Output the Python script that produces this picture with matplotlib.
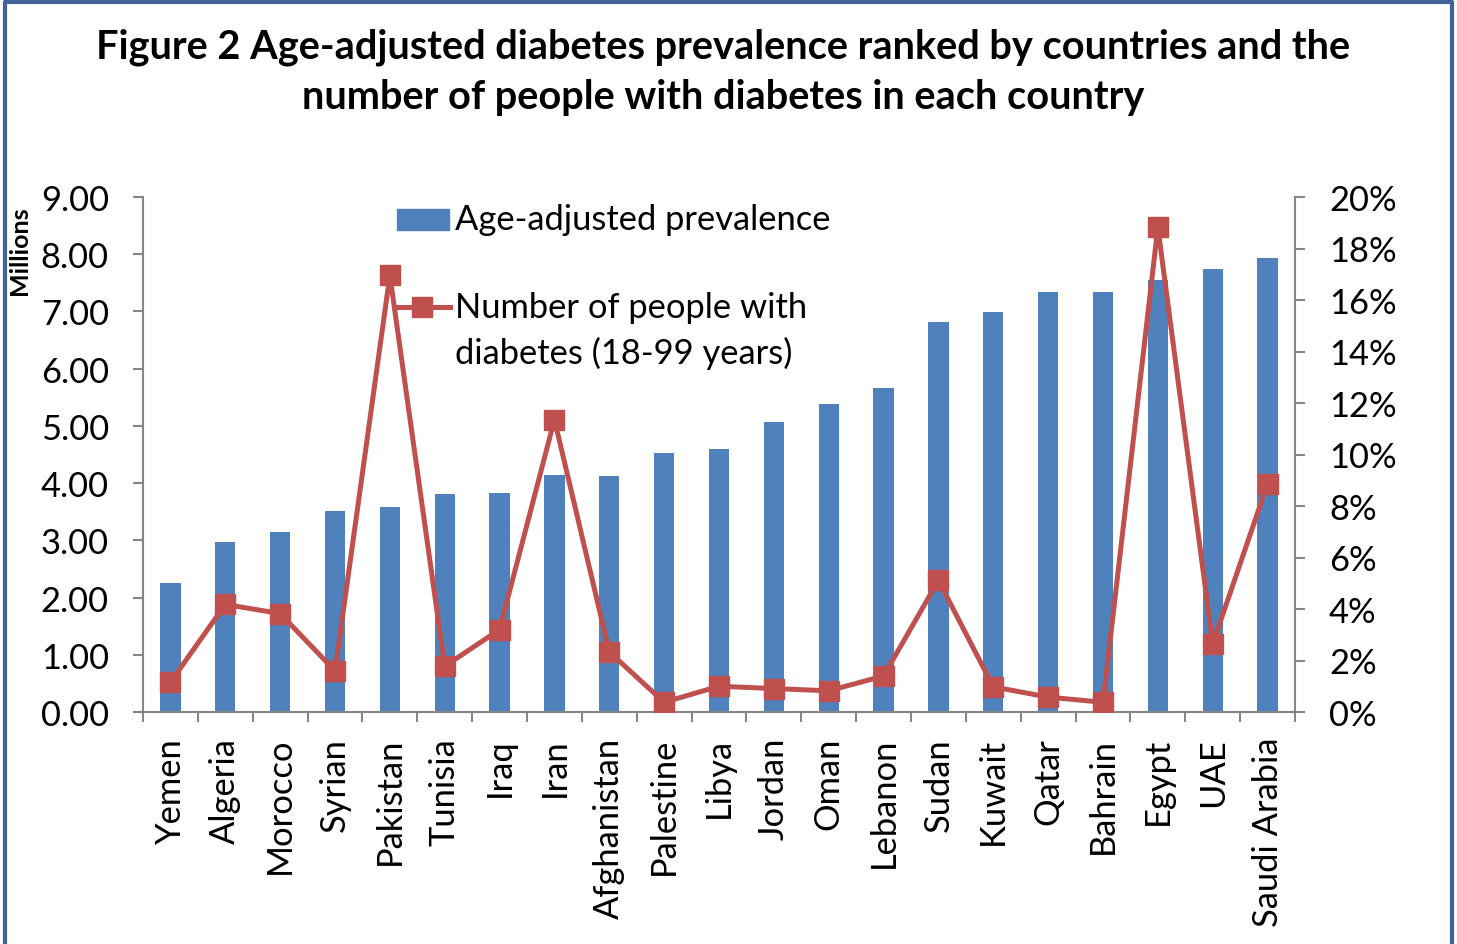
import numpy as np
import matplotlib; matplotlib.use('Agg')
import matplotlib.pyplot as plt
from matplotlib.ticker import PercentFormatter, FormatStrFormatter, MultipleLocator
from matplotlib.lines import Line2D
from matplotlib.patches import Rectangle

plt.rcParams['font.family'] = ['Lato', 'DejaVu Sans']

countries = ['Yemen', 'Algeria', 'Morocco', 'Syrian', 'Pakistan', 'Tunisia', 'Iraq', 'Iran',
             'Afghanistan', 'Palestine', 'Libya', 'Jordan', 'Oman', 'Lebanon', 'Sudan',
             'Kuwait', 'Qatar', 'Bahrain', 'Egypt', 'UAE', 'Saudi Arabia']
# age-adjusted prevalence, % (right axis)
prevalence = [5.01, 6.62, 6.99, 7.82, 7.97, 8.47, 8.50, 9.20, 9.17, 10.07, 10.23,
              11.28, 11.97, 12.58, 15.15, 15.55, 16.30, 16.30, 16.78, 17.20, 17.65]
# number of people with diabetes, millions (left axis)
people = [0.52, 1.88, 1.72, 0.72, 7.63, 0.80, 1.44, 5.11, 1.05, 0.17, 0.45,
          0.41, 0.37, 0.63, 2.30, 0.44, 0.26, 0.17, 8.47, 1.19, 3.99]

BLUE = '#4f81bd'; RED = '#c0504d'; GREY = '#868686'
W, H = 1457, 945
fs = 24.8
LW = 3.6

fig = plt.figure(figsize=(W/100, H/100), dpi=100)
px = lambda x: x/W
py = lambda y: 1 - y/H

ax = fig.add_axes([px(143), py(713), px(1295-143), (713-198)/H])
x = np.arange(len(countries))
ax.bar(x, prevalence, width=0.37, color=BLUE, zorder=2)
ax.set_xlim(-0.5, len(countries)-0.5)
ax.set_ylim(0, 20)
ax.yaxis.set_major_locator(MultipleLocator(2))
ax.yaxis.set_major_formatter(PercentFormatter(xmax=100, decimals=0))

ax2 = ax.twinx()
ax2.plot(x, people, color=RED, lw=LW, marker='s', ms=14, zorder=3)
ax2.set_ylim(0, 9)
ax2.yaxis.set_major_locator(MultipleLocator(1))
ax2.yaxis.set_major_formatter(FormatStrFormatter('%.2f'))

# swap sides: bars on right axis, line on left axis
ax.yaxis.tick_right()
ax2.yaxis.tick_left()

for s in ax.spines.values():
    s.set_color(GREY); s.set_linewidth(1.5)
ax.spines['top'].set_visible(False)
for s in ax2.spines.values():
    s.set_visible(False)

ax.set_xticks(x)
ax.set_xticklabels(countries, rotation=90, fontsize=fs)
ax.set_xticks(np.arange(-0.5, len(countries)), minor=True)
ax.tick_params(axis='x', which='major', length=0, pad=18)
ax.tick_params(axis='x', which='minor', length=7.5, width=1.5, color=GREY, direction='out')
ax.tick_params(axis='y', length=7.5, width=1.5, color=GREY, labelsize=fs, pad=17)
ax2.tick_params(axis='y', length=7.5, width=1.5, color=GREY, labelsize=fs, pad=17)

fig.text(px(20), py(251), 'Millions', rotation=90, ha='center', va='center',
         fontsize=18, fontweight='bold')

# title
fig.text(px(723), py(47), 'Figure 2 Age-adjusted diabetes prevalence ranked by countries and the',
         ha='center', va='center', fontsize=28.6, fontweight='bold')
fig.text(px(723), py(98), 'number of people with diabetes in each country',
         ha='center', va='center', fontsize=28.6, fontweight='bold')

# legend
fig.add_artist(Rectangle((px(397), py(231)), px(52), (231-210)/H, color=BLUE,
                         transform=fig.transFigure))
fig.text(px(455), py(220), 'Age-adjusted prevalence', ha='left', va='center', fontsize=fs)
fig.add_artist(Line2D([px(395), px(450)], [py(308), py(308)], color=RED, lw=LW,
                      transform=fig.transFigure))
fig.add_artist(Line2D([px(422)], [py(308)], color=RED, marker='s', ms=14,
                      transform=fig.transFigure))
fig.text(px(455), py(308), 'Number of people with', ha='left', va='center', fontsize=fs)
fig.text(px(455), py(353), 'diabetes (18-99 years)', ha='left', va='center', fontsize=fs)

# frame
BORDER = '#3f6496'
fig.add_artist(Line2D([px(5), px(5), px(1452), px(1452)], [0, py(3), py(3), 0],
                      color=BORDER, lw=3, transform=fig.transFigure))

fig.savefig('out.png', dpi=100, facecolor='white')
